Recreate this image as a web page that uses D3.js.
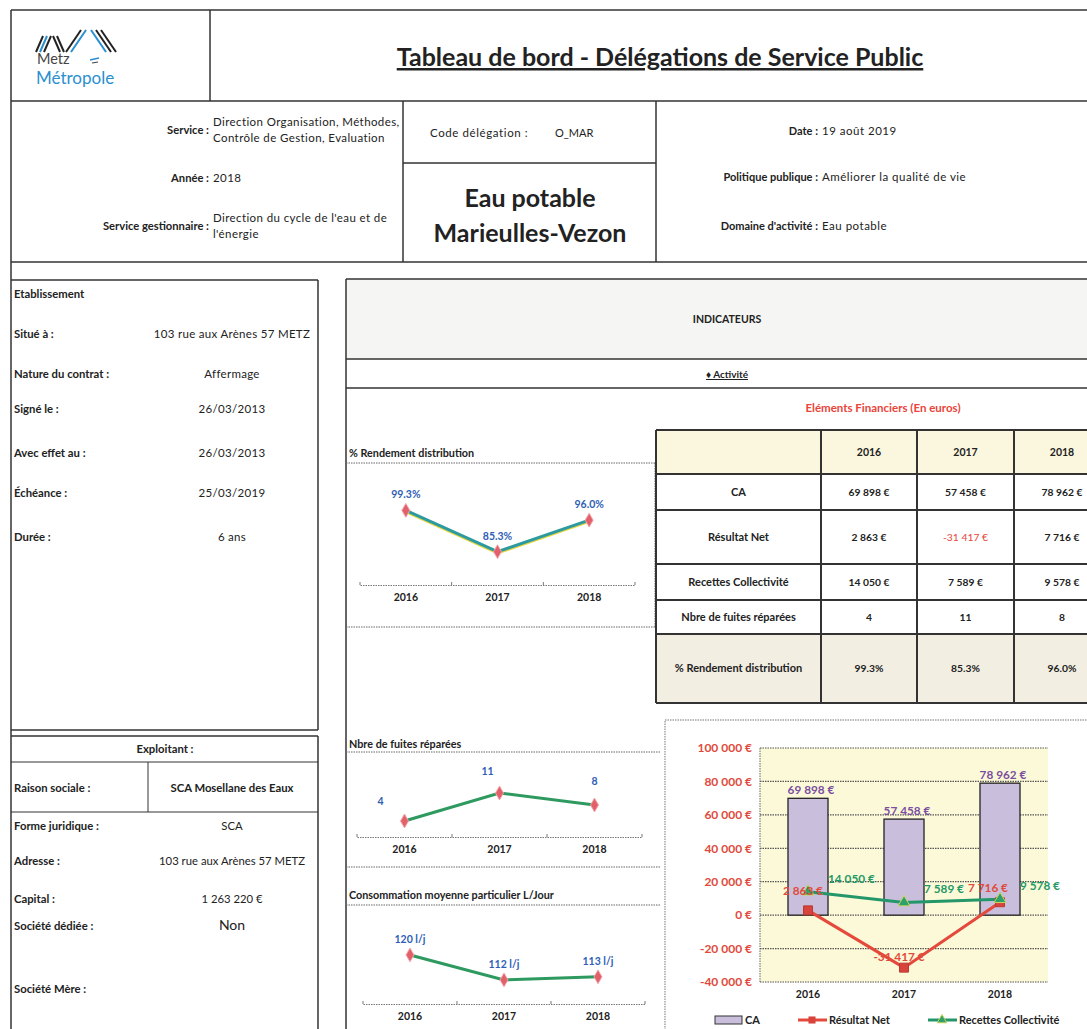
<!DOCTYPE html>
<html><head><meta charset="utf-8">
<script src="https://cdn.jsdelivr.net/npm/d3@7/dist/d3.min.js"></script>
<style>
html,body{margin:0;padding:0;background:#fff;}
svg{display:block;font-family:Lato,"Liberation Sans",sans-serif;}
</style></head>
<body>
<svg id="c" width="1087" height="1029"></svg>
<script>
// ---------- DATA ----------
const years = ["2016", "2017", "2018"];
const rendement = [99.3, 85.3, 96.0];
const fuites = [4, 11, 8];
const conso = [120, 112, 113];
const ca = [69898, 57458, 78962];
const resultatNet = [2863, -31417, 7716];
const recettes = [14050, 7589, 9578];
const euroTicks = [-40000, -20000, 0, 20000, 40000, 60000, 80000, 100000];
const tableRowLabels = ["CA", "Résultat Net", "Recettes Collectivité", "Nbre de fuites réparées", "% Rendement distribution"];
const infoLeft = [
  ["Service :", ["Direction Organisation, Méthodes,", "Contrôle de Gestion, Evaluation"]],
  ["Année :", ["2018"]],
  ["Service gestionnaire :", ["Direction du cycle de l'eau et de", "l'énergie"]]
];
const infoRight = [
  ["Date :", "19 août 2019"],
  ["Politique publique :", "Améliorer la qualité de vie"],
  ["Domaine d'activité :", "Eau potable"]
];
const etablissement = [
  ["Situé à :", "103 rue aux Arènes 57 METZ"],
  ["Nature du contrat  :", "Affermage"],
  ["Signé le :", "26/03/2013"],
  ["Avec effet au :", "26/03/2013"],
  ["Échéance :", "25/03/2019"],
  ["Durée :", "6 ans"]
];
const exploitant = [
  ["Forme juridique :", "SCA"],
  ["Adresse :", "103 rue aux Arènes 57 METZ"],
  ["Capital :", "1 263 220 €"],
  ["Société dédiée :", "Non"],
  ["Société Mère :", ""]
];

// ---------- HELPERS ----------
const svg = d3.select("#c");
const loc = d3.formatLocale({decimal: ",", thousands: "\u00a0", grouping: [3], currency: ["", ""], minus: "-"});
const euro = v => loc.format(",.0f")(v) + " €";
const pct = v => d3.format(".1f")(v) + "%";
const INK = "#333";
const FONT = "Lato,'Liberation Sans',sans-serif";

function text(x, y, s, o = {}) {
  return svg.append("text").attr("x", x).attr("y", y).text(s)
    .attr("font-size", o.size || 10)
    .attr("font-weight", o.bold ? "bold" : "normal")
    .attr("fill", o.fill || "#222")
    .attr("text-anchor", o.anchor || "start")
    .attr("letter-spacing", o.ls || null)
    .attr("text-decoration", o.underline ? "underline" : null);
}
function line(x1, y1, x2, y2, o = {}) {
  return svg.append("line").attr("x1", x1).attr("y1", y1).attr("x2", x2).attr("y2", y2)
    .attr("stroke", o.stroke || INK).attr("stroke-width", o.w || 1.5)
    .attr("stroke-dasharray", o.dash || null);
}

// ---------- FRAME / HEADER ----------
svg.append("rect").attr("x", 346).attr("y", 279).attr("width", 760).attr("height", 80).attr("fill", "#f5f5f3");
line(11, 10, 1087, 10);
line(11, 10, 11, 1029);
line(210, 10, 210, 101);
line(11, 101, 1087, 101);
line(403, 101, 403, 262);
line(656, 101, 656, 262);
line(403, 163, 656, 163);
line(11, 262, 1087, 262);

// logo
const logo = svg.append("g");
const strokes = [
  [36, 52, 43, 36, "#222"], [40, 52, 47, 36, "#2a8fd0"], [44, 52, 51, 36, "#222"],
  [53, 36, 60, 52, "#222"], [57, 36, 64, 52, "#222"],
  [66, 52, 81, 30, "#222"], [71, 52, 86, 30, "#2a8fd0"],
  [91, 30, 106, 52, "#2a8fd0"], [96, 30, 111, 52, "#222"], [101, 30, 116, 52, "#222"]
];
logo.selectAll("line").data(strokes).join("line")
  .attr("x1", d => d[0]).attr("y1", d => d[1]).attr("x2", d => d[2]).attr("y2", d => d[3])
  .attr("stroke", d => d[4]).attr("stroke-width", 2);
text(37, 64, "Metz", {size: 14.5, fill: "#444"});
line(90, 60, 99, 58, {stroke: "#2a8fd0", w: 1.5});
line(92, 63, 98, 62, {stroke: "#444", w: 1.2});
text(36, 84, "Métropole", {size: 17, fill: "#2a8fd0"});

text(660, 66, "Tableau de bord - Délégations de Service Public", {size: 25, bold: true, anchor: "middle", underline: true});

// info row
const infoY = [[126, 142], [182], [222, 238]];
const labelY = [134, 182, 230];
infoLeft.forEach((d, i) => {
  text(209, labelY[i], d[0], {bold: true, anchor: "end", size: 11.2});
  d[1].forEach((s, j) => text(213, infoY[i][j], s, {size: 11.5, ls: 0.4}));
});
text(430, 137, "Code délégation :", {size: 11.5, ls: 0.6});
text(555, 137, "O_MAR", {size: 11});
text(530, 207, "Eau potable", {size: 25, bold: true, anchor: "middle"});
text(530, 242, "Marieulles-Vezon", {size: 25, bold: true, anchor: "middle"});
const rightY = [135, 181, 230];
infoRight.forEach((d, i) => {
  text(818, rightY[i], d[0], {bold: true, anchor: "end", size: 11});
  text(822, rightY[i], d[1], {size: 11.5, ls: 0.5});
});

// ---------- LEFT PANELS ----------
line(11, 280, 318, 280); line(318, 280, 318, 730); line(11, 730, 318, 730);
text(14, 298, "Etablissement", {bold: true, size: 11.3});
const etY = [338, 378, 413, 457, 497, 541];
etablissement.forEach((d, i) => {
  text(14, etY[i], d[0], {bold: true, size: 11.3});
  text(232, etY[i], d[1], {anchor: "middle", size: 11.5, ls: 0.3});
});
line(11, 736, 318, 736); line(318, 736, 318, 1029);
line(11, 762, 318, 762, {w: 1}); line(11, 812, 318, 812, {w: 1.2}); line(148, 762, 148, 812, {w: 1});
text(165, 753, "Exploitant :", {bold: true, anchor: "middle", size: 11.3});
text(14, 792, "Raison sociale :", {bold: true, size: 11.3});
text(232, 792, "SCA Mosellane des Eaux", {bold: true, anchor: "middle", size: 11.3});
const exY = [830, 865, 903, 930, 993];
exploitant.forEach((d, i) => {
  text(14, exY[i], d[0], {bold: true, size: 11.3});
  text(232, exY[i], d[1], {anchor: "middle", size: d[1] === "Non" ? 14 : 11.3});
});

// ---------- INDICATEURS ----------
line(346, 279, 1087, 279);
line(346, 279, 346, 1029);
line(346, 359, 1087, 359);
line(346, 388, 1087, 388);
text(727, 323, "INDICATEURS", {bold: true, size: 10.5, anchor: "middle"});
text(727, 378, "♦ Activité", {bold: true, size: 10, anchor: "middle", underline: true});

// ---------- MINI CHARTS ----------
function mini(o) {
  text(349, o.titleY, o.title, {bold: true, size: 10.8});
  line(346, o.boxTop, o.boxRight, o.boxTop, {stroke: "#666", w: 1, dash: "1.5,1"});
  if (o.boxBottom) line(346, o.boxBottom, o.boxRight, o.boxBottom, {stroke: "#666", w: 1, dash: "1.5,1"});
  if (o.rightBorder) line(o.boxRight, o.boxTop, o.boxRight, o.boxBottom, {stroke: "#666", w: 1, dash: "1.5,1"});
  const x = d3.scaleBand().domain(years).range([o.x0, o.x1]);
  const y = d3.scaleLinear().domain(o.yDomain).range(o.yRange);
  const ax = svg.append("g").attr("transform", `translate(0,${o.axisY})`)
    .call(d3.axisBottom(x).tickSize(0).tickSizeOuter(0).tickPadding(9));
  ax.select(".domain").attr("stroke", "#777").attr("stroke-dasharray", "1.5,1").attr("stroke-width", 1.2);
  ax.selectAll("text").attr("font-size", 10.5).attr("font-weight", "bold").attr("fill", "#222")
    .attr("font-family", FONT);
  const bounds = [o.x0].concat(years.map(d => x(d) + x.bandwidth()));
  svg.append("g").selectAll("line").data(bounds).join("line")
    .attr("x1", d => d).attr("x2", d => d).attr("y1", o.axisY - 3).attr("y2", o.axisY)
    .attr("stroke", "#777").attr("stroke-width", 1);
  const cx = d => x(d) + x.bandwidth() / 2;
  const pts = years.map((yr, i) => [cx(yr), y(o.values[i])]);
  const lg = d3.line();
  if (o.yellow) svg.append("path").attr("d", lg(pts.map(p => [p[0], p[1] + 1.5])))
    .attr("fill", "none").attr("stroke", "#e6d640").attr("stroke-width", 2.5);
  svg.append("path").attr("d", lg(pts)).attr("fill", "none").attr("stroke", o.lineColor).attr("stroke-width", 3);
  svg.append("g").selectAll("path").data(pts).join("path")
    .attr("transform", p => `translate(${p[0]},${p[1]})`)
    .attr("d", d3.symbol(d3.symbolDiamond, 55)).attr("fill", "#e2606a").attr("stroke", "#f2a6aa").attr("stroke-width", 1);
  svg.append("g").selectAll("text").data(pts).join("text")
    .attr("x", (p, i) => p[0] + (o.labelDx ? o.labelDx[i] : 0))
    .attr("y", (p, i) => p[1] - 12 + (o.labelDy ? o.labelDy[i] : 0))
    .attr("text-anchor", "middle").attr("font-size", 10.5).attr("font-weight", "bold").attr("fill", "#2e5fb5")
    .text((p, i) => o.fmt(o.values[i]));
}
mini({title: "% Rendement distribution", titleY: 457, boxTop: 463, boxBottom: 627, boxRight: 655, rightBorder: true,
  x0: 360, x1: 635, axisY: 585, yDomain: [74, 113], yRange: [585, 470], values: rendement, fmt: pct,
  lineColor: "#2d9aa0", yellow: true});
mini({title: "Nbre de fuites réparées", titleY: 748, boxTop: 752, boxBottom: 867, boxRight: 660,
  x0: 357, x1: 642, axisY: 837, yDomain: [0, 19], yRange: [837, 761], values: fuites, fmt: d => d,
  labelDx: [-24, -12, 0], labelDy: [-4, -6, -8], lineColor: "#2e9a60"});
mini({title: "Consommation moyenne particulier L/Jour", titleY: 899, boxTop: 905, boxBottom: null, boxRight: 660,
  x0: 363, x1: 645, axisY: 1004, yDomain: [104.3, 128.3], yRange: [1004, 929], values: conso, fmt: d => d + " l/j",
  lineColor: "#2e9a60"});

// ---------- TABLE ----------
text(883, 412, "Eléments Financiers  (En euros)", {bold: true, size: 11.5, fill: "#e8443a", anchor: "middle"});
const colX = [656, 821, 917, 1014, 1110];
const rowY = [430, 474, 510, 564, 600, 634, 703];
svg.append("rect").attr("x", 656).attr("y", 430).attr("width", 460).attr("height", 44).attr("fill", "#fbf7df");
svg.append("rect").attr("x", 656).attr("y", 634).attr("width", 460).attr("height", 69).attr("fill", "#f3eee2");
rowY.forEach(yv => line(656, yv, 1110, yv, {w: 2}));
colX.forEach(xv => line(xv, 430, xv, 703, {w: 2}));
const rowsData = [ca.map(euro), resultatNet.map(euro), recettes.map(euro), fuites.map(String), rendement.map(pct)];
const mid = i => (rowY[i] + rowY[i + 1]) / 2 + 3.5;
years.forEach((yr, j) => text((colX[j + 1] + colX[j + 2]) / 2, mid(0), yr, {bold: true, anchor: "middle", size: 10.5}));
tableRowLabels.forEach((lab, i) => {
  text((colX[0] + colX[1]) / 2, mid(i + 1), lab, {bold: true, anchor: "middle", size: 11});
  rowsData[i].forEach((v, j) => {
    const neg = i === 1 && resultatNet[j] < 0;
    text((colX[j + 1] + colX[j + 2]) / 2, mid(i + 1), v, {bold: !neg, anchor: "middle", size: 10.3, fill: neg ? "#e8443a" : "#222"});
  });
});

// ---------- COMBINED CHART ----------
svg.append("rect").attr("x", 665).attr("y", 720).attr("width", 450).attr("height", 330)
  .attr("fill", "none").attr("stroke", "#777").attr("stroke-dasharray", "1.5,1");
const X = d3.scaleBand().domain(years).range([760, 1048]);
const Y = d3.scaleLinear().domain([-40000, 100000]).range([982, 748]);
svg.append("rect").attr("x", 760).attr("y", 748).attr("width", 288).attr("height", 234).attr("fill", "#fcf9d9");
svg.append("g").selectAll("line").data(euroTicks).join("line")
  .attr("x1", 760).attr("x2", 1048).attr("y1", d => Y(d)).attr("y2", d => Y(d))
  .attr("stroke", "#555").attr("stroke-width", 1.2).attr("stroke-dasharray", "1.5,1");
line(760, 748, 760, 982, {stroke: "#666", w: 1, dash: "1.5,1"});
const yAx = svg.append("g").attr("transform", "translate(760,0)")
  .call(d3.axisLeft(Y).tickValues(euroTicks).tickFormat(euro).tickSize(0).tickPadding(8));
yAx.select(".domain").remove();
yAx.selectAll("text").attr("font-size", 12).attr("font-weight", "bold").attr("fill", "#e04a3c")
  .attr("font-family", FONT);
const xAx = svg.append("g").attr("transform", "translate(0,982)")
  .call(d3.axisBottom(X).tickSize(0).tickPadding(9));
xAx.select(".domain").remove();
xAx.selectAll("text").attr("font-size", 10.5).attr("font-weight", "bold").attr("fill", "#222")
  .attr("font-family", FONT);
const BW = 40;
const cX = d => X(d) + X.bandwidth() / 2;
svg.append("g").selectAll("rect").data(years).join("rect")
  .attr("x", d => cX(d) - BW / 2).attr("width", BW)
  .attr("y", (d, i) => Y(ca[i])).attr("height", (d, i) => Y(0) - Y(ca[i]))
  .attr("fill", "#c9bfdd").attr("stroke", "#222").attr("stroke-width", 1.3);
svg.append("g").selectAll("text").data(years).join("text")
  .attr("x", d => cX(d) + 3).attr("y", (d, i) => Y(ca[i]) - 4)
  .attr("text-anchor", "middle").attr("font-size", 11.8).attr("font-weight", "bold").attr("fill", "#7b4fa0")
  .text((d, i) => euro(ca[i]));
const L = d3.line().x(d => d[0]).y(d => d[1]);
const recPts = years.map((d, i) => [cX(d), Y(recettes[i])]);
const resPts = years.map((d, i) => [cX(d), Y(resultatNet[i])]);
svg.append("path").attr("d", L(recPts)).attr("fill", "none").attr("stroke", "#23966a").attr("stroke-width", 3);
svg.append("path").attr("d", L(resPts)).attr("fill", "none").attr("stroke", "#e5493c").attr("stroke-width", 3);
svg.append("g").selectAll("path").data(resPts).join("path")
  .attr("transform", p => `translate(${p[0]},${p[1]})`)
  .attr("d", d3.symbol(d3.symbolSquare, 80)).attr("fill", "#d8443c").attr("stroke", "#b83a33").attr("stroke-width", 1);
svg.append("g").selectAll("path").data(recPts).join("path")
  .attr("transform", p => `translate(${p[0]},${p[1]})`)
  .attr("d", d3.symbol(d3.symbolTriangle, 60)).attr("fill", "#2ea06a").attr("stroke", "#c9d45c").attr("stroke-width", 1);
svg.append("g").selectAll("text").data(resPts).join("text")
  .attr("x", (p, i) => p[0] + [-5, -5, -12][i]).attr("y", (p, i) => p[1] + [-15, -7, -10][i])
  .attr("text-anchor", "middle").attr("font-size", 11.8).attr("font-weight", "bold").attr("fill", "#e04a3a")
  .text((p, i) => euro(resultatNet[i]));
svg.append("g").selectAll("text").data(recPts).join("text")
  .attr("x", (p, i) => p[0] + 20).attr("y", (p, i) => p[1] - 9)
  .attr("text-anchor", "start").attr("font-size", 11.8).attr("font-weight", "bold").attr("fill", "#1f9a66")
  .text((p, i) => euro(recettes[i]));

// legend
svg.append("rect").attr("x", 715).attr("y", 1016).attr("width", 27).attr("height", 8)
  .attr("fill", "#c9bfdd").attr("stroke", "#333").attr("stroke-width", 1);
text(745, 1024, "CA", {bold: true, size: 11});
line(798, 1020, 827, 1020, {stroke: "#e5493c", w: 3});
svg.append("path").attr("transform", "translate(812,1020)").attr("d", d3.symbol(d3.symbolSquare, 50)).attr("fill", "#d8443c");
text(829, 1024, "Résultat Net", {bold: true, size: 11});
line(928, 1020, 957, 1020, {stroke: "#23966a", w: 3});
svg.append("path").attr("transform", "translate(942,1020)").attr("d", d3.symbol(d3.symbolTriangle, 40)).attr("fill", "#2ea06a").attr("stroke", "#c9d45c");
text(959, 1024, "Recettes Collectivité", {bold: true, size: 11});
</script>
</body></html>
